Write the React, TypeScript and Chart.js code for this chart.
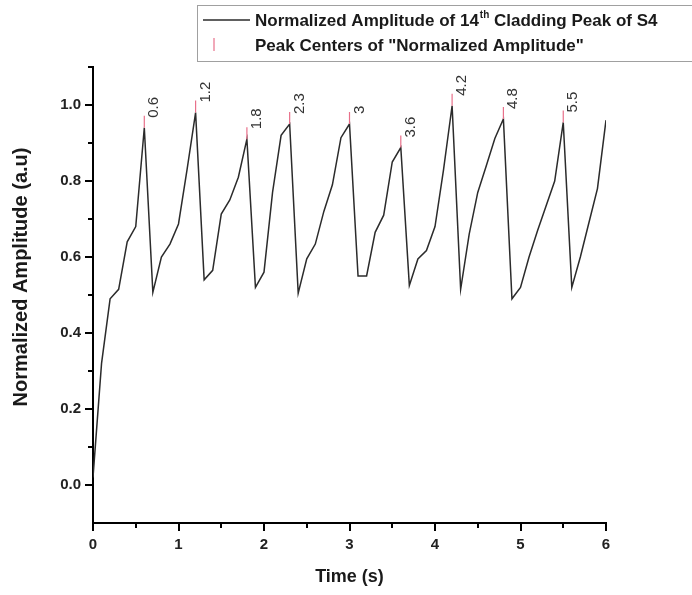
import React, { useEffect, useRef } from 'react';
import { Chart, registerables } from 'chart.js';

Chart.register(...registerables);

// ---- Data ----
const timeS = [
  0.0, 0.1, 0.2, 0.3, 0.4, 0.5, 0.6, 0.7, 0.8, 0.9,
  1.0, 1.1, 1.2, 1.3, 1.4, 1.5, 1.6, 1.7, 1.8, 1.9,
  2.0, 2.1, 2.2, 2.3, 2.4, 2.5, 2.6, 2.7, 2.8, 2.9,
  3.0, 3.1, 3.2, 3.3, 3.4, 3.5, 3.6, 3.7, 3.8, 3.9,
  4.0, 4.1, 4.2, 4.3, 4.4, 4.5, 4.6, 4.7, 4.8, 4.9,
  5.0, 5.1, 5.2, 5.3, 5.4, 5.5, 5.6, 5.7, 5.8, 5.9,
  6.0,
];
const amplitude = [
  0.02, 0.32, 0.49, 0.515, 0.64, 0.68, 0.94, 0.507, 0.6, 0.634,
  0.687, 0.83, 0.98, 0.54, 0.565, 0.713, 0.75, 0.81, 0.91, 0.52,
  0.56, 0.77, 0.92, 0.95, 0.505, 0.595, 0.634, 0.72, 0.79, 0.914,
  0.95, 0.55, 0.55, 0.665, 0.71, 0.85, 0.888, 0.525, 0.595, 0.617,
  0.68, 0.83, 0.998, 0.515, 0.66, 0.77, 0.84, 0.912, 0.963, 0.49,
  0.52, 0.6, 0.67, 0.735, 0.8, 0.954, 0.52, 0.6, 0.69, 0.78,
  0.96,
];
const peakCenters = [0.6, 1.2, 1.8, 2.3, 3.0, 3.6, 4.2, 4.8, 5.5];
const peakLabels = ['0.6', '1.2', '1.8', '2.3', '3', '3.6', '4.2', '4.8', '5.5'];
const yMajorTicks = [0, 0.2, 0.4, 0.6, 0.8, 1.0];
const yMinorTicks = [0.1, 0.3, 0.5, 0.7, 0.9, 1.1];
const xMinorTicks = [0.5, 1.5, 2.5, 3.5, 4.5, 5.5];
const xTitle = 'Time (s)';
const yTitle = 'Normalized Amplitude (a.u)';
const seriesLegendA = 'Normalized Amplitude of 14';
const seriesLegendSup = 'th';
const seriesLegendB = ' Cladding Peak of S4';
const peakLegend = 'Peak Centers of "Normalized Amplitude"';

const FONT = '"Liberation Sans", Arial, sans-serif';

const overlay = {
  id: 'overlay',
  afterDraw(chart: any) {
    const { ctx, chartArea } = chart;
    const x = chart.scales.x;
    const y = chart.scales.y;
    ctx.save();

    // minor ticks
    ctx.strokeStyle = '#000';
    ctx.lineWidth = 2;
    xMinorTicks.forEach((v) => {
      const px = Math.round(x.getPixelForValue(v));
      ctx.beginPath();
      ctx.moveTo(px, chartArea.bottom);
      ctx.lineTo(px, chartArea.bottom + 5);
      ctx.stroke();
    });
    yMinorTicks.forEach((v) => {
      const py = Math.round(y.getPixelForValue(v));
      ctx.beginPath();
      ctx.moveTo(chartArea.left, py);
      ctx.lineTo(chartArea.left - 5, py);
      ctx.stroke();
    });

    // peak centre markers and labels
    peakCenters.forEach((t, i) => {
      const idx = timeS.findIndex((v) => Math.abs(v - t) < 1e-9);
      const px = x.getPixelForValue(t);
      const py = y.getPixelForValue(amplitude[idx]);
      ctx.strokeStyle = '#e8708a';
      ctx.lineWidth = 1.2;
      ctx.beginPath();
      ctx.moveTo(px, py);
      ctx.lineTo(px, py - 12);
      ctx.stroke();
      ctx.save();
      ctx.translate(px + 14, py - 10);
      ctx.rotate(-Math.PI / 2);
      ctx.font = `15px ${FONT}`;
      ctx.fillStyle = '#333';
      ctx.textAlign = 'left';
      ctx.textBaseline = 'alphabetic';
      ctx.fillText(peakLabels[i], 0, 0);
      ctx.restore();
    });

    // axis titles
    ctx.fillStyle = '#1a1a1a';
    ctx.font = `bold 18px ${FONT}`;
    ctx.textAlign = 'center';
    ctx.textBaseline = 'middle';
    ctx.fillText(xTitle, (chartArea.left + chartArea.right) / 2, 577);
    ctx.save();
    ctx.translate(21, 277);
    ctx.rotate(-Math.PI / 2);
    ctx.font = `bold 20px ${FONT}`;
    ctx.fillText(yTitle, 0, 0);
    ctx.restore();

    // legend box
    ctx.strokeStyle = '#a0a0a0';
    ctx.lineWidth = 1;
    ctx.strokeRect(197.5, 5.5, 700, 56);
    ctx.strokeStyle = '#2b2b2b';
    ctx.lineWidth = 1.5;
    ctx.beginPath();
    ctx.moveTo(203, 20);
    ctx.lineTo(250, 20);
    ctx.stroke();
    ctx.strokeStyle = '#e8708a';
    ctx.lineWidth = 1.2;
    ctx.beginPath();
    ctx.moveTo(214, 38);
    ctx.lineTo(214, 51);
    ctx.stroke();

    ctx.fillStyle = '#1a1a1a';
    ctx.textAlign = 'left';
    ctx.textBaseline = 'alphabetic';
    ctx.font = `bold 17px ${FONT}`;
    let tx = 255;
    ctx.fillText(seriesLegendA, tx, 26);
    tx += ctx.measureText(seriesLegendA).width;
    ctx.font = `bold 10px ${FONT}`;
    ctx.fillText(seriesLegendSup, tx + 1, 18);
    tx += ctx.measureText(seriesLegendSup).width + 1;
    ctx.font = `bold 17px ${FONT}`;
    ctx.fillText(seriesLegendB, tx, 26);
    ctx.fillText(peakLegend, 255, 51);

    ctx.restore();
  },
};

export default function App() {
  const ref = useRef<HTMLCanvasElement | null>(null);
  useEffect(() => {
    document.body.style.margin = '0';
    const canvas = ref.current;
    if (!canvas) return;
    const tickFont = { family: FONT, size: 15, weight: 'bold' as const };
    const chart = new Chart(canvas, {
      type: 'line',
      data: {
        datasets: [
          {
            label: seriesLegendA + seriesLegendSup + seriesLegendB,
            data: timeS.map((t, i) => ({ x: t, y: amplitude[i] })),
            borderColor: '#2b2b2b',
            borderWidth: 1.5,
            pointRadius: 0,
            tension: 0,
            fill: false,
          },
        ],
      },
      options: {
        animation: false,
        responsive: false,
        devicePixelRatio: 1,
        layout: { padding: { top: 67, right: 86, left: 0, bottom: 0 } },
        plugins: {
          legend: { display: false },
          tooltip: { enabled: false },
          title: { display: false },
        },
        scales: {
          x: {
            type: 'linear',
            min: 0,
            max: 6,
            ticks: { stepSize: 1, font: tickFont, color: '#222', padding: 5, maxRotation: 0 },
            grid: { drawOnChartArea: false, tickLength: 8, color: '#000', lineWidth: 2 },
            border: { display: true, color: '#000', width: 2 },
            afterFit: (s: any) => {
              s.height = 72;
            },
          },
          y: {
            type: 'linear',
            min: -0.1,
            max: 1.1,
            afterBuildTicks: (s: any) => {
              s.ticks = yMajorTicks.map((v) => ({ value: v }));
            },
            ticks: {
              font: tickFont,
              color: '#222',
              padding: 4,
              callback: (v: any) => Number(v).toFixed(1),
            },
            grid: { drawOnChartArea: false, tickLength: 8, color: '#000', lineWidth: 2 },
            border: { display: true, color: '#000', width: 2 },
            afterFit: (s: any) => {
              s.width = 93;
            },
          },
        },
      },
      plugins: [overlay],
    });
    return () => chart.destroy();
  }, []);
  return (
    <div style={{ width: 692, height: 595 }}>
      <canvas ref={ref} width={692} height={595} style={{ display: 'block' }} />
    </div>
  );
}
